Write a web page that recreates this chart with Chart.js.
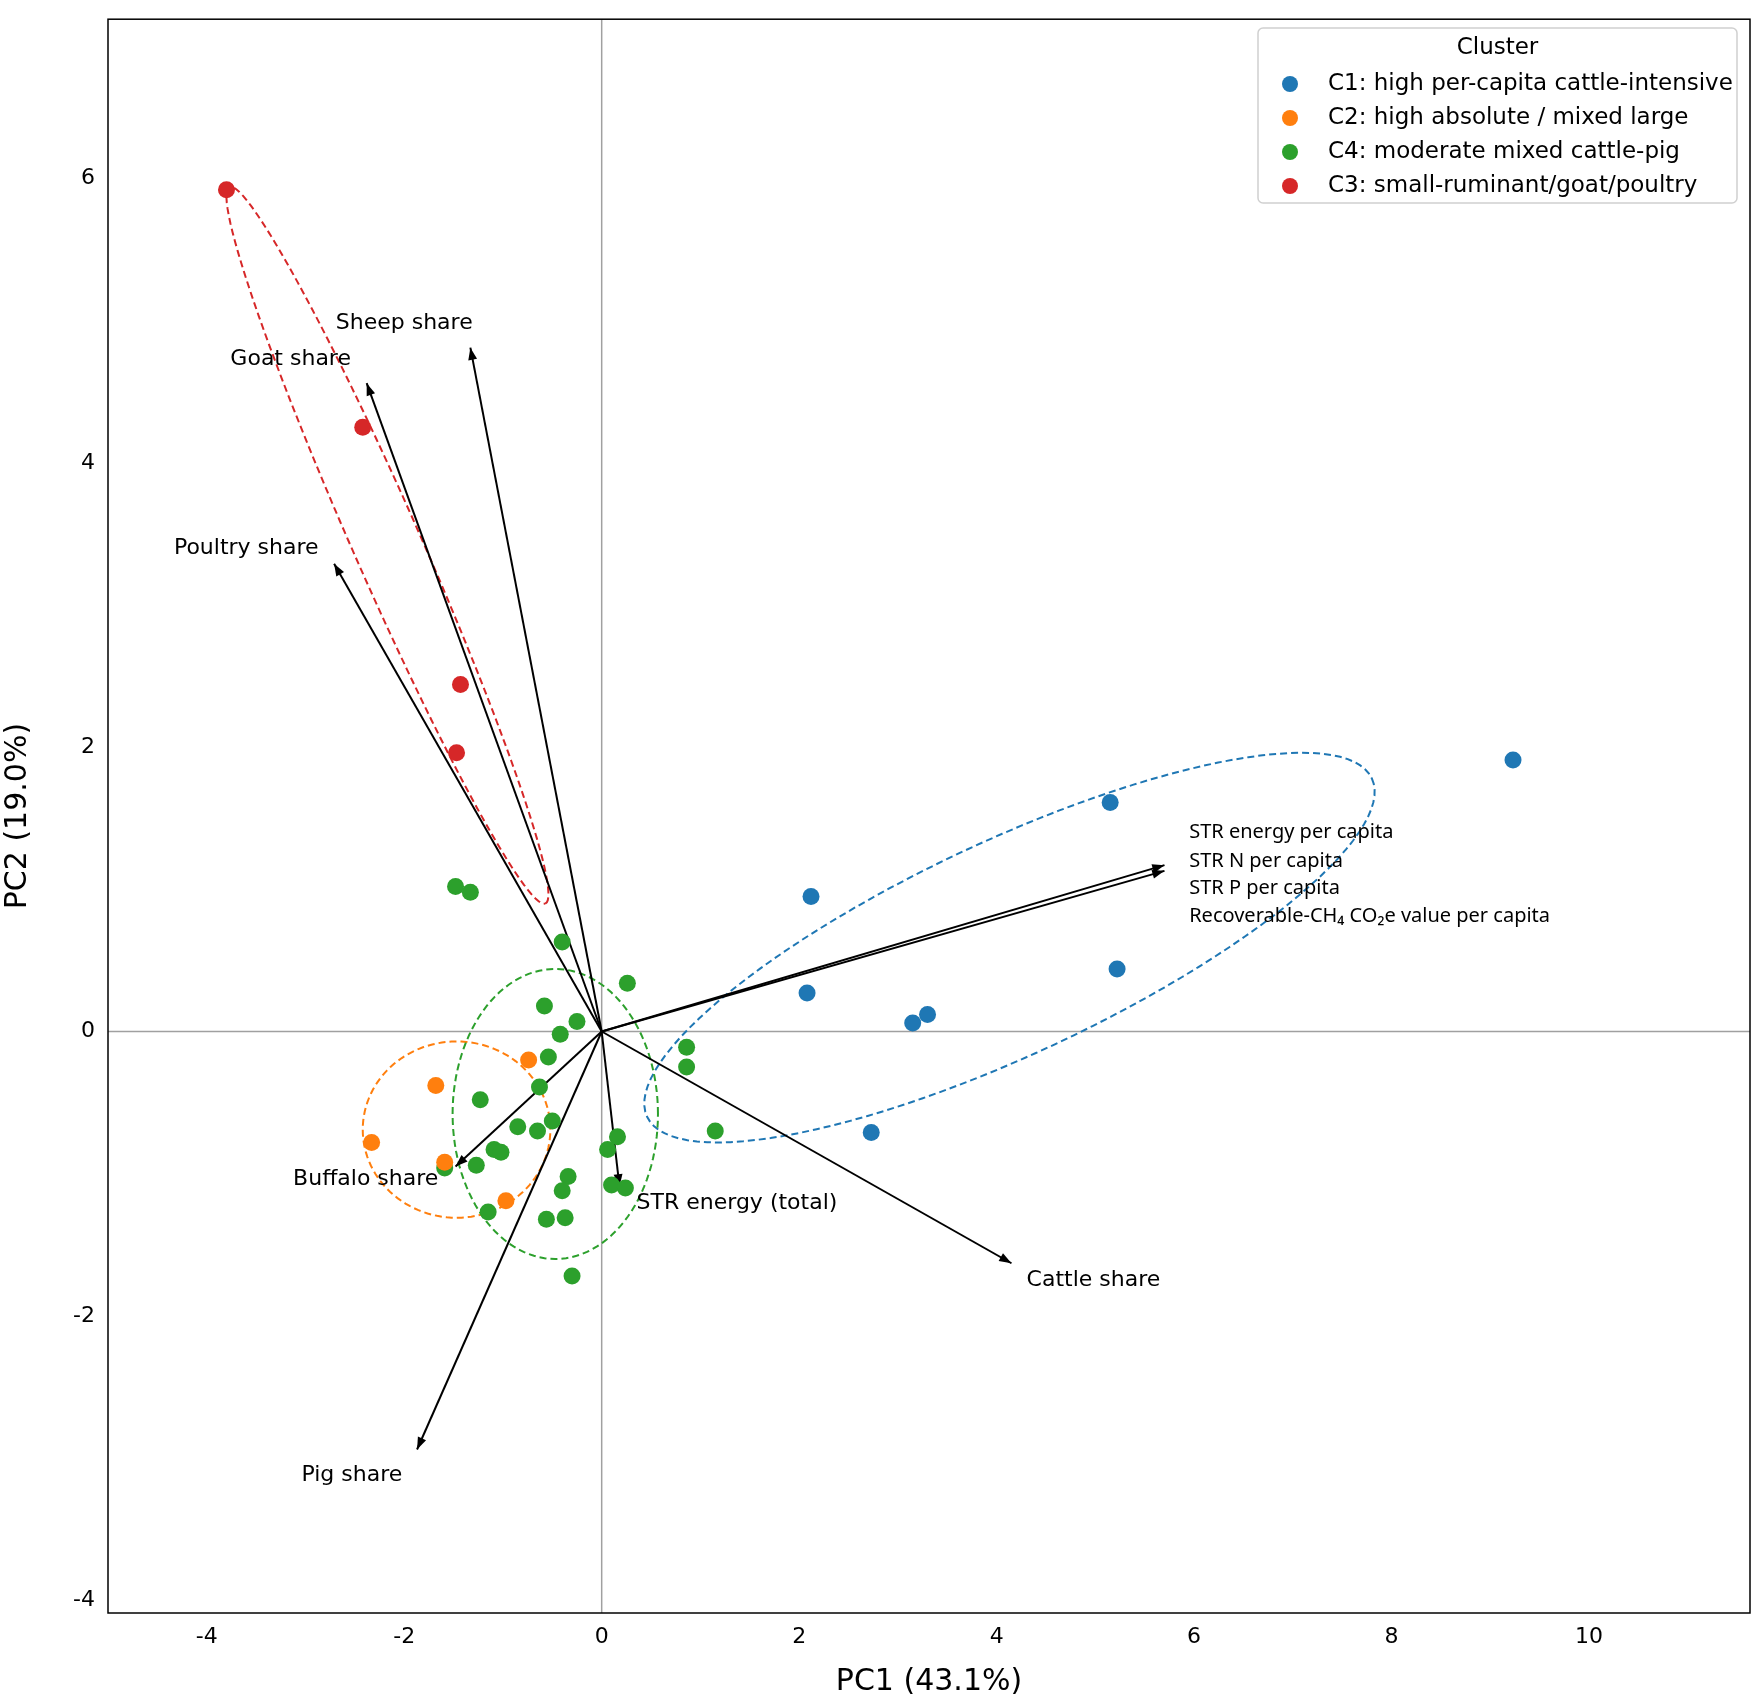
<!DOCTYPE html>
<html>
<head>
<meta charset="UTF-8">
<script src="https://cdn.jsdelivr.net/npm/chart.js"></script>
<style>
  body { margin: 0; background: #fff; }
  #wrap { width: 1763px; height: 1700px; }
</style>
</head>
<body>
<div id="wrap"><canvas id="pca"></canvas></div>
<script>
// cluster points (PC1, PC2)
const c1X = [2.12, 5.15, 9.23, 5.22, 2.08, 3.15, 3.30, 2.73];
const c1Y = [0.95, 1.61, 1.91, 0.44, 0.27, 0.06, 0.12, -0.71];
const c2X = [-0.74, -1.68, -2.33, -1.59, -0.97];
const c2Y = [-0.20, -0.38, -0.78, -0.92, -1.19];
const c4X = [-1.48, -1.33, -0.40, 0.26, -0.58, -0.25, -0.42, -0.54, 0.86, 0.86, -0.63, -1.23, -0.50, -0.85, -0.65,
             1.15, 0.16, -1.09, -1.02, 0.06, -1.27, -1.59, -0.34, -0.40, 0.10, 0.24, -1.15, -0.56, -0.37, -0.30];
const c4Y = [1.02, 0.98, 0.63, 0.34, 0.18, 0.07, -0.02, -0.18, -0.11, -0.25, -0.39, -0.48, -0.63, -0.67, -0.70,
             -0.70, -0.74, -0.83, -0.85, -0.83, -0.94, -0.96, -1.02, -1.12, -1.08, -1.10, -1.27, -1.32, -1.31, -1.72];
const c3X = [-3.80, -2.42, -1.43, -1.47];
const c3Y = [5.92, 4.25, 2.44, 1.96];

const clusterNames = ['C1: high per-capita cattle-intensive', 'C2: high absolute / mixed large',
                      'C4: moderate mixed cattle-pig', 'C3: small-ruminant/goat/poultry'];
const clusterColors = ['#1f77b4', '#ff7f0e', '#2ca02c', '#d62728'];

// loading arrows (tip) and label anchors
const loadNames = ['Sheep share', 'Goat share', 'Poultry share', 'Buffalo share', 'Pig share', 'STR energy (total)', 'Cattle share', '', ''];
const loadX = [-1.33, -2.38, -2.71, -1.48, -1.87, 0.18, 4.15, 5.70, 5.70];
const loadY = [4.81, 4.56, 3.29, -0.95, -2.94, -1.09, -1.63, 1.17, 1.13];
const labelX = [-2.0, -3.15, -3.6, -2.39, -2.53, 1.37, 4.98];
const labelY = [4.98, 4.73, 3.40, -1.04, -3.12, -1.21, -1.75];
const perCapita = ['STR energy per capita', 'STR N per capita', 'STR P per capita', 'Recoverable-CH\u2084 CO\u2082e value per capita'];
const perCapitaX = 5.95;
const perCapitaY = [1.40, 1.20, 1.01, 0.81];

// confidence ellipses: centre, half major vector, half minor vector (data units)
const ellipses = [
  { c: [4.13, 0.59], u: [3.67, 1.19], v: [0.46, -0.68], color: '#1f77b4' },
  { c: [-1.47, -0.69], u: [0.95, 0], v: [0, 0.62], color: '#ff7f0e' },
  { c: [-0.47, -0.58], u: [1.04, 0], v: [0, 1.02], color: '#2ca02c' },
  { c: [-2.17, 3.42], u: [1.6, -2.52], v: [0.315, 0.095], color: '#d62728' }
];

const xTicks = [-4, -2, 0, 2, 4, 6, 8, 10];
const yTicks = [-4, -2, 0, 2, 4, 6];

function pts(xs, ys) { return xs.map((x, i) => ({ x: x, y: ys[i] })); }

const overlay = {
  id: 'overlay',
  beforeDatasetsDraw(chart) {
    const ctx = chart.ctx, xs = chart.scales.x, ys = chart.scales.y, a = chart.chartArea;
    ctx.save();
    ctx.strokeStyle = '#a0a0a0'; ctx.lineWidth = 1.5;
    ctx.beginPath();
    ctx.moveTo(xs.getPixelForValue(0), a.top); ctx.lineTo(xs.getPixelForValue(0), a.bottom);
    ctx.moveTo(a.left, ys.getPixelForValue(0)); ctx.lineTo(a.right, ys.getPixelForValue(0));
    ctx.stroke();
    // ellipses
    ctx.setLineDash([7, 4]); ctx.lineWidth = 2;
    ellipses.forEach(e => {
      ctx.strokeStyle = e.color;
      ctx.beginPath();
      for (let k = 0; k <= 120; k++) {
        const t = k / 120 * Math.PI * 2;
        const dx = e.c[0] + e.u[0] * Math.cos(t) + e.v[0] * Math.sin(t);
        const dy = e.c[1] + e.u[1] * Math.cos(t) + e.v[1] * Math.sin(t);
        const px = xs.getPixelForValue(dx), py = ys.getPixelForValue(dy);
        k ? ctx.lineTo(px, py) : ctx.moveTo(px, py);
      }
      ctx.stroke();
    });
    ctx.setLineDash([]);
    // arrows
    const ox = xs.getPixelForValue(0), oy = ys.getPixelForValue(0);
    ctx.strokeStyle = '#000'; ctx.fillStyle = '#000'; ctx.lineWidth = 2;
    loadX.forEach((lx, i) => {
      const tx = xs.getPixelForValue(lx), ty = ys.getPixelForValue(loadY[i]);
      const ang = Math.atan2(ty - oy, tx - ox);
      ctx.beginPath(); ctx.moveTo(ox, oy); ctx.lineTo(tx, ty); ctx.stroke();
      ctx.beginPath();
      ctx.moveTo(tx, ty);
      ctx.lineTo(tx - 13 * Math.cos(ang - 0.35), ty - 13 * Math.sin(ang - 0.35));
      ctx.lineTo(tx - 13 * Math.cos(ang + 0.35), ty - 13 * Math.sin(ang + 0.35));
      ctx.closePath(); ctx.fill();
    });
    // labels
    ctx.font = '22px "DejaVu Sans"'; ctx.textAlign = 'center'; ctx.textBaseline = 'middle';
    labelX.forEach((lx, i) => ctx.fillText(loadNames[i], xs.getPixelForValue(lx), ys.getPixelForValue(labelY[i])));
    ctx.font = '20px "Noto Sans"'; ctx.textAlign = 'left';
    perCapita.forEach((t, i) => ctx.fillText(t, xs.getPixelForValue(perCapitaX), ys.getPixelForValue(perCapitaY[i])));
    ctx.restore();
  },
  afterDraw(chart) {
    const ctx = chart.ctx, a = chart.chartArea;
    ctx.save();
    // frame
    ctx.strokeStyle = '#000'; ctx.lineWidth = 1.5;
    ctx.strokeRect(a.left, a.top, a.right - a.left, a.bottom - a.top);
    // legend
    const bx = 1258, by = 28, bw = 479, bh = 175;
    ctx.fillStyle = 'rgba(255,255,255,0.85)'; ctx.strokeStyle = '#d0d0d0'; ctx.lineWidth = 1.5;
    ctx.beginPath(); ctx.roundRect(bx, by, bw, bh, 5); ctx.fill(); ctx.stroke();
    ctx.fillStyle = '#000'; ctx.font = '23px "DejaVu Sans"'; ctx.textAlign = 'center'; ctx.textBaseline = 'middle';
    ctx.fillText('Cluster', bx + bw / 2, by + 20);
    ctx.textAlign = 'left';
    clusterNames.forEach((n, i) => {
      const yy = by + 56 + i * 34;
      ctx.fillStyle = clusterColors[i];
      ctx.beginPath(); ctx.arc(bx + 32, yy, 8, 0, Math.PI * 2); ctx.fill();
      ctx.fillStyle = '#000';
      ctx.fillText(n, bx + 70, yy);
    });
    ctx.restore();
  }
};

const mkSet = (xs, ys, i) => ({
  label: clusterNames[i], data: pts(xs, ys), backgroundColor: clusterColors[i],
  borderWidth: 0, pointRadius: 8.5
});

new Chart(document.getElementById('pca'), {
  type: 'scatter',
  data: { datasets: [mkSet(c1X, c1Y, 0), mkSet(c2X, c2Y, 1), mkSet(c4X, c4Y, 2), mkSet(c3X, c3Y, 3)] },
  options: {
    responsive: true, maintainAspectRatio: false, animation: false,
    layout: { padding: { top: 17, right: 13, left: 0, bottom: 0 } },
    plugins: { legend: { display: false }, tooltip: { enabled: false } },
    scales: {
      x: {
        type: 'linear', min: -5, max: 11.63,
        afterBuildTicks: s => { s.ticks = xTicks.map(v => ({ value: v })); },
        afterFit: s => { s.height = 87; },
        grid: { display: false, drawTicks: true, tickLength: 7, tickColor: '#000' },
        border: { display: false },
        ticks: { color: '#000', font: { size: 22, family: 'DejaVu Sans' }, padding: 4, maxRotation: 0 },
        title: { display: true, text: 'PC1 (43.1%)', color: '#000', font: { size: 30, family: 'DejaVu Sans' }, padding: 0 }
      },
      y: {
        type: 'linear', min: -4.09, max: 7.12,
        afterBuildTicks: s => { s.ticks = yTicks.map(v => ({ value: v })); },
        afterFit: s => { s.width = 108; },
        grid: { display: false, tickLength: 7, tickColor: '#000' },
        border: { display: false },
        ticks: { color: '#000', font: { size: 22, family: 'DejaVu Sans' }, padding: 6 },
        title: { display: true, text: 'PC2 (19.0%)', color: '#000', font: { size: 30, family: 'DejaVu Sans' }, padding: 0 }
      }
    }
  },
  plugins: [overlay]
});
</script>
</body>
</html>
